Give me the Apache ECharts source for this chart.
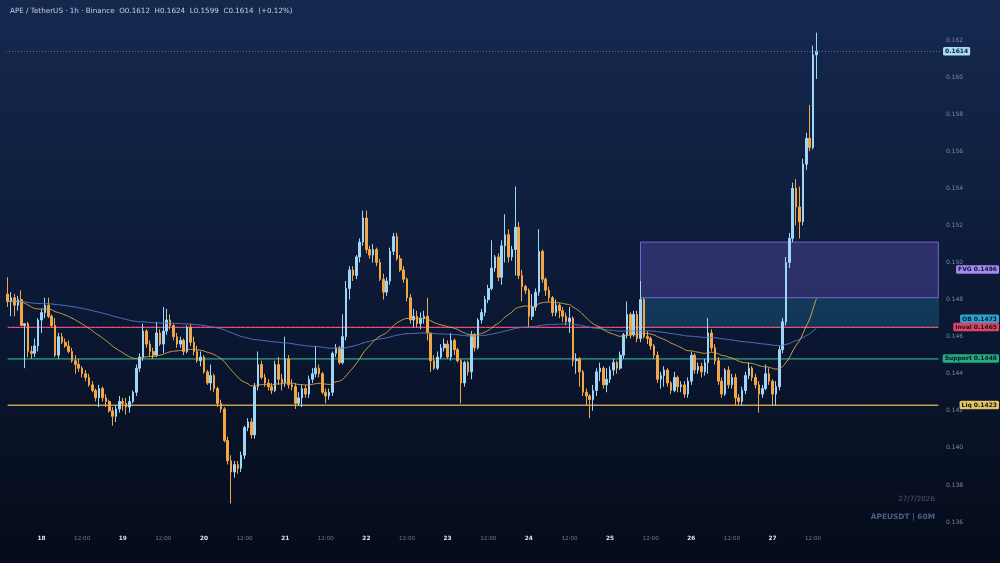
<!DOCTYPE html>
<html><head><meta charset="utf-8">
<script src="https://cdn.jsdelivr.net/npm/echarts@6/dist/echarts.min.js"></script>
<style>html,body{margin:0;padding:0;width:1000px;height:563px;overflow:hidden;background:#0b1733;}
#c{width:1000px;height:563px;}</style></head>
<body><div id="c"></div>
<script>
// ---- data (APE/USDT 1h, 17 Jul 14:00 -> 27 Jul 13:00, 2026) ----
const opens=[0.1483,0.1479,0.1481,0.1477,0.1480,0.1466,0.1467,0.1452,0.1451,0.1455,
0.1469,0.1473,0.1477,0.1471,0.1466,0.1450,0.1460,0.1457,0.1455,0.1452,
0.1447,0.1445,0.1443,0.1440,0.1438,0.1434,0.1431,0.1427,0.1432,0.1427,
0.1425,0.1420,0.1417,0.1421,0.1425,0.1424,0.1422,0.1425,0.1430,0.1443,
0.1449,0.1463,0.1456,0.1452,0.1450,0.1462,0.1456,0.1463,0.1469,0.1466,
0.1460,0.1456,0.1458,0.1452,0.1465,0.1457,0.1452,0.1447,0.1449,0.1441,
0.1435,0.1439,0.1432,0.1424,0.1421,0.1404,0.1393,0.1387,0.1391,0.1389,
0.1396,0.1411,0.1414,0.1407,0.1433,0.1445,0.1438,0.1435,0.1433,0.1431,
0.1445,0.1437,0.1435,0.1448,0.1434,0.1433,0.1424,0.1427,0.1432,0.1429,
0.1437,0.1440,0.1443,0.1440,0.1430,0.1428,0.1430,0.1451,0.1454,0.1446,
0.1460,0.1486,0.1496,0.1493,0.1503,0.1511,0.1524,0.1507,0.1504,0.1507,
0.1500,0.1491,0.1484,0.1490,0.1506,0.1514,0.1502,0.1496,0.1491,0.1481,
0.1469,0.1471,0.1467,0.1470,0.1471,0.1462,0.1447,0.1443,0.1449,0.1454,
0.1456,0.1449,0.1458,0.1453,0.1447,0.1435,0.1446,0.1441,0.1461,0.1454,
0.1469,0.1473,0.1480,0.1486,0.1497,0.1503,0.1492,0.1509,0.1515,0.1503,
0.1507,0.1519,0.1493,0.1487,0.1485,0.1471,0.1476,0.1484,0.1506,0.1491,
0.1485,0.1481,0.1473,0.1477,0.1474,0.1471,0.1468,0.1470,0.1447,0.1448,
0.1441,0.1430,0.1428,0.1426,0.1431,0.1441,0.1443,0.1434,0.1437,0.1442,
0.1446,0.1443,0.1450,0.1461,0.1472,0.1461,0.1472,0.1459,0.1480,0.1460,
0.1459,0.1455,0.1450,0.1437,0.1439,0.1442,0.1435,0.1431,0.1438,0.1433,
0.1434,0.1429,0.1436,0.1450,0.1442,0.1444,0.1441,0.1446,0.1462,0.1454,
0.1447,0.1436,0.1429,0.1442,0.1434,0.1438,0.1427,0.1425,0.1431,0.1439,
0.1443,0.1438,0.1434,0.1429,0.1432,0.1440,0.1436,0.1429,0.1433,0.1453,
0.1468,0.1500,0.1513,0.1540,0.1530,0.1522,0.1553,0.1567,0.1562,0.1612];
const highs=[0.1492,0.1484,0.1483,0.1482,0.1485,0.1467,0.1468,0.1455,0.1459,0.1470,
0.1475,0.1481,0.1481,0.1472,0.1470,0.1462,0.1462,0.1459,0.1458,0.1454,
0.1450,0.1448,0.1444,0.1442,0.1440,0.1436,0.1432,0.1434,0.1433,0.1429,
0.1426,0.1422,0.1423,0.1428,0.1427,0.1427,0.1428,0.1431,0.1445,0.1451,
0.1467,0.1464,0.1458,0.1454,0.1468,0.1464,0.1476,0.1475,0.1472,0.1467,
0.1462,0.1460,0.1459,0.1466,0.1467,0.1460,0.1455,0.1452,0.1450,0.1442,
0.1445,0.1440,0.1433,0.1426,0.1422,0.1406,0.1396,0.1393,0.1393,0.1398,
0.1412,0.1416,0.1416,0.1435,0.1452,0.1447,0.1440,0.1437,0.1435,0.1447,
0.1449,0.1440,0.1460,0.1450,0.1437,0.1435,0.1430,0.1434,0.1434,0.1439,
0.1443,0.1455,0.1445,0.1441,0.1432,0.1432,0.1452,0.1456,0.1455,0.1472,
0.1490,0.1498,0.1498,0.1504,0.1513,0.1528,0.1528,0.1509,0.1510,0.1508,
0.1502,0.1494,0.1492,0.1508,0.1516,0.1516,0.1504,0.1498,0.1492,0.1483,
0.1475,0.1474,0.1473,0.1474,0.1481,0.1462,0.1450,0.1452,0.1456,0.1459,
0.1458,0.1462,0.1459,0.1454,0.1448,0.1447,0.1447,0.1463,0.1462,0.1470,
0.1475,0.1482,0.1488,0.1512,0.1504,0.1505,0.1512,0.1526,0.1518,0.1509,
0.1541,0.1522,0.1496,0.1488,0.1486,0.1483,0.1486,0.1518,0.1507,0.1492,
0.1487,0.1482,0.1480,0.1478,0.1476,0.1473,0.1476,0.1471,0.1451,0.1449,
0.1442,0.1432,0.1429,0.1434,0.1443,0.1446,0.1444,0.1443,0.1444,0.1448,
0.1447,0.1452,0.1462,0.1479,0.1473,0.1474,0.1474,0.1490,0.1481,0.1463,
0.1460,0.1456,0.1452,0.1441,0.1444,0.1443,0.1436,0.1441,0.1439,0.1436,
0.1436,0.1438,0.1452,0.1451,0.1446,0.1446,0.1448,0.1470,0.1464,0.1456,
0.1449,0.1438,0.1443,0.1444,0.1440,0.1440,0.1429,0.1433,0.1441,0.1446,
0.1444,0.1440,0.1436,0.1434,0.1445,0.1443,0.1437,0.1436,0.1455,0.1470,
0.1503,0.1516,0.1543,0.1545,0.1541,0.1556,0.1570,0.1585,0.1617,0.1624];
const lows=[0.1476,0.1471,0.1471,0.1474,0.1466,0.1443,0.1449,0.1448,0.1449,0.1452,
0.1462,0.1470,0.1470,0.1465,0.1449,0.1448,0.1456,0.1454,0.1451,0.1446,
0.1440,0.1441,0.1438,0.1436,0.1433,0.1430,0.1425,0.1422,0.1425,0.1422,
0.1419,0.1412,0.1414,0.1419,0.1420,0.1418,0.1419,0.1424,0.1428,0.1441,
0.1447,0.1454,0.1449,0.1448,0.1449,0.1455,0.1451,0.1461,0.1464,0.1458,
0.1454,0.1454,0.1450,0.1451,0.1455,0.1450,0.1446,0.1444,0.1440,0.1434,
0.1431,0.1430,0.1422,0.1419,0.1403,0.1391,0.1370,0.1384,0.1386,0.1387,
0.1394,0.1409,0.1405,0.1405,0.1431,0.1437,0.1433,0.1431,0.1429,0.1430,
0.1434,0.1431,0.1433,0.1432,0.1431,0.1421,0.1423,0.1422,0.1427,0.1427,
0.1435,0.1438,0.1438,0.1429,0.1424,0.1426,0.1428,0.1449,0.1445,0.1445,
0.1458,0.1480,0.1490,0.1491,0.1500,0.1509,0.1505,0.1502,0.1500,0.1498,
0.1490,0.1480,0.1482,0.1488,0.1504,0.1501,0.1495,0.1489,0.1479,0.1467,
0.1465,0.1465,0.1464,0.1467,0.1458,0.1441,0.1442,0.1442,0.1448,0.1452,
0.1448,0.1447,0.1450,0.1446,0.1424,0.1433,0.1439,0.1437,0.1452,0.1453,
0.1467,0.1471,0.1478,0.1485,0.1495,0.1490,0.1488,0.1500,0.1500,0.1501,
0.1493,0.1491,0.1479,0.1483,0.1465,0.1469,0.1474,0.1482,0.1489,0.1482,
0.1479,0.1471,0.1471,0.1470,0.1468,0.1466,0.1462,0.1444,0.1440,0.1433,
0.1428,0.1423,0.1416,0.1420,0.1428,0.1436,0.1432,0.1430,0.1435,0.1439,
0.1440,0.1442,0.1448,0.1459,0.1459,0.1460,0.1457,0.1457,0.1459,0.1456,
0.1453,0.1448,0.1435,0.1432,0.1433,0.1433,0.1429,0.1430,0.1430,0.1430,
0.1427,0.1427,0.1434,0.1440,0.1440,0.1438,0.1439,0.1440,0.1452,0.1445,
0.1434,0.1427,0.1428,0.1432,0.1432,0.1423,0.1423,0.1423,0.1429,0.1437,
0.1436,0.1432,0.1419,0.1427,0.1431,0.1434,0.1423,0.1423,0.1431,0.1451,
0.1466,0.1497,0.1511,0.1520,0.1513,0.1520,0.1550,0.1560,0.1561,0.1599];
const closes=[0.1479,0.1481,0.1477,0.1480,0.1466,0.1467,0.1452,0.1451,0.1455,0.1469,
0.1473,0.1477,0.1471,0.1466,0.1450,0.1460,0.1457,0.1455,0.1452,0.1447,
0.1445,0.1443,0.1440,0.1438,0.1434,0.1431,0.1427,0.1432,0.1427,0.1425,
0.1420,0.1417,0.1421,0.1425,0.1424,0.1422,0.1425,0.1430,0.1443,0.1449,
0.1463,0.1456,0.1452,0.1450,0.1462,0.1456,0.1463,0.1469,0.1466,0.1460,
0.1456,0.1458,0.1452,0.1465,0.1457,0.1452,0.1447,0.1449,0.1441,0.1435,
0.1439,0.1432,0.1424,0.1421,0.1404,0.1393,0.1387,0.1391,0.1389,0.1396,
0.1411,0.1414,0.1407,0.1433,0.1445,0.1438,0.1435,0.1433,0.1431,0.1445,
0.1437,0.1435,0.1448,0.1434,0.1433,0.1424,0.1427,0.1432,0.1429,0.1437,
0.1440,0.1443,0.1440,0.1430,0.1428,0.1430,0.1451,0.1454,0.1446,0.1460,
0.1486,0.1496,0.1493,0.1503,0.1511,0.1524,0.1507,0.1504,0.1507,0.1500,
0.1491,0.1484,0.1490,0.1506,0.1514,0.1502,0.1496,0.1491,0.1481,0.1469,
0.1471,0.1467,0.1470,0.1471,0.1462,0.1447,0.1443,0.1449,0.1454,0.1456,
0.1449,0.1458,0.1453,0.1447,0.1435,0.1446,0.1441,0.1461,0.1454,0.1469,
0.1473,0.1480,0.1486,0.1497,0.1503,0.1492,0.1509,0.1515,0.1503,0.1507,
0.1519,0.1493,0.1487,0.1485,0.1471,0.1476,0.1484,0.1506,0.1491,0.1485,
0.1481,0.1473,0.1477,0.1474,0.1471,0.1468,0.1470,0.1447,0.1448,0.1441,
0.1430,0.1428,0.1426,0.1431,0.1441,0.1443,0.1434,0.1437,0.1442,0.1446,
0.1443,0.1450,0.1461,0.1472,0.1461,0.1472,0.1459,0.1480,0.1460,0.1459,
0.1455,0.1450,0.1437,0.1439,0.1442,0.1435,0.1431,0.1438,0.1433,0.1434,
0.1429,0.1436,0.1450,0.1442,0.1444,0.1441,0.1446,0.1462,0.1454,0.1447,
0.1436,0.1429,0.1442,0.1434,0.1438,0.1427,0.1425,0.1431,0.1439,0.1443,
0.1438,0.1434,0.1429,0.1432,0.1440,0.1436,0.1429,0.1433,0.1453,0.1468,
0.1500,0.1513,0.1540,0.1530,0.1522,0.1553,0.1567,0.1562,0.1612,0.1614];

const startHourUTC = Date.UTC(2026, 6, 17, 14); // first candle
const futureSlots = 36;                          // empty space to the right
const zoneStartIndex = 187;                      // 25 Jul 09:00
const fvgZone = [0.1481, 0.1511];
const obZone  = [0.1465, 0.1481];
const invalLevel = 0.1465;
const supportLevel = 0.1448;
const liqLevel = 0.1423;

// ---- build ----
const nCandles = closes.length;
const categories = [];
for (let i = 0; i < nCandles + futureSlots; i++) {
  const d = new Date(startHourUTC + i * 3600000);
  categories.push(d.getUTCDate() + ' ' + String(d.getUTCHours()).padStart(2,'0') + ':00');
}
const candleData = closes.map((c, i) => [opens[i], c, lows[i], highs[i]]);
function ema(src, p) {
  const k = 2 / (p + 1); const out = []; let e = src[0];
  for (let i = 0; i < src.length; i++) { e = i === 0 ? src[0] : src[i] * k + e * (1 - k); out.push(+e.toFixed(6)); }
  return out;
}
const ema50 = ema(closes, 50);
const ema200 = ema(closes, 200);
const lastO = opens[nCandles-1], lastH = highs[nCandles-1], lastL = lows[nCandles-1], lastC = closes[nCandles-1];
const chg = ((lastC - lastO) / lastO * 100);
const headText = 'APE / TetherUS · 1h · Binance  O' + lastO.toFixed(4) + '  H' + lastH.toFixed(4) +
  '  L' + lastL.toFixed(4) + '  C' + lastC.toFixed(4) + '  (' + (chg >= 0 ? '+' : '') + chg.toFixed(2) + '%)';
const lastIdx = categories.length - 1;
const FONT = 'DejaVu Sans';

// zero-height mark areas act as coloured horizontal level lines
function levelArea(value, color, type, width) {
  return [{xAxis: 0, yAxis: value, itemStyle: {color: 'rgba(0,0,0,0)', borderColor: color, borderWidth: width, borderType: type}},
          {xAxis: lastIdx, yAxis: value}];
}

const chart = echarts.init(document.getElementById('c'), null, {renderer: 'canvas'});
chart.setOption({
  animation: false,
  backgroundColor: {type: 'linear', x: 0, y: 0, x2: 0, y2: 1,
    colorStops: [{offset: 0, color: '#15294f'}, {offset: 0.5, color: '#0c1a37'}, {offset: 1, color: '#050b19'}]},
  title: [
    {text: headText, left: 5, top: 3, textStyle: {color: '#c3cde0', fontSize: 7.2, fontWeight: 'normal', fontFamily: FONT}},
    {text: '27/7/2026', right: 60, top: 491, textStyle: {color: '#4d5b77', fontSize: 7.2, fontWeight: 'normal', fontFamily: FONT}},
    {text: 'APEUSDT | 60M', right: 60, top: 509, textStyle: {color: '#4c5f82', fontSize: 7.4, fontWeight: 'bold', fontFamily: FONT}}
  ],
  grid: {left: 6, right: 60, top: 21.5, height: 509.8},
  xAxis: {
    type: 'category', data: categories, boundaryGap: true,
    axisLine: {show: false}, axisTick: {show: false}, splitLine: {show: false},
    axisLabel: {
      margin: 4, hideOverlap: false,
      interval: (idx, val) => idx < nCandles && (val.endsWith(' 00:00') || val.endsWith(' 12:00')),
      formatter: (val) => val.endsWith(' 00:00') ? '{d|' + val.split(' ')[0] + '}' : '{h|12:00}',
      rich: {
        d: {color: '#dde4ef', fontSize: 5.8, fontWeight: 'bold', fontFamily: FONT},
        h: {color: '#6d7c99', fontSize: 5.6, fontFamily: FONT}
      }
    }
  },
  yAxis: {
    type: 'value', position: 'right', scale: true,
    min: 0.1355, max: 0.1630, splitNumber: 13,
    axisLine: {show: false}, axisTick: {show: false}, splitLine: {show: false},
    axisLabel: {color: '#7c89a3', fontSize: 6, fontFamily: FONT, margin: 6,
      showMinLabel: false, showMaxLabel: false, formatter: (v) => v.toFixed(3)}
  },
  series: [
    {
      type: 'candlestick', name: 'APEUSDT', data: candleData, barWidth: '62%',
      itemStyle: {color: '#9fd5f6', color0: '#f2a646', borderColor: '#9fd5f6', borderColor0: '#f2a646', borderWidth: 1},
      markArea: {
        silent: true,
        data: [
          [{xAxis: zoneStartIndex, yAxis: obZone[1], itemStyle: {color: 'rgba(28,110,150,0.38)', borderColor: 'rgba(40,120,170,0.35)', borderWidth: 1}},
           {xAxis: lastIdx, yAxis: obZone[0]}],
          [{xAxis: zoneStartIndex, yAxis: fvgZone[1], itemStyle: {color: 'rgba(112,92,205,0.33)', borderColor: '#7565cc', borderWidth: 1}},
           {xAxis: lastIdx, yAxis: fvgZone[0]}],
          levelArea(supportLevel, '#279a83', 'solid', 0.9),
          levelArea(liqLevel, '#d9b35c', 'solid', 0.9),
          levelArea(invalLevel, '#f04d78', [3, 2], 1.2)
        ]
      },
      markLine: {
        silent: true, symbol: ['none', 'none'], precision: 4,
        lineStyle: {color: '#5a6f90', width: 1, type: [1, 2]},
        data: [{yAxis: lastC,
          label: {show: true, position: 'end', distance: 3, formatter: lastC.toFixed(4),
            color: '#0a1a33', backgroundColor: '#a9dbf7', fontSize: 6, fontWeight: 'bold', fontFamily: FONT,
            padding: [1.5, 2, 1, 2], borderRadius: 1.5}}]
      },
      z: 3
    },
    {type: 'line', name: 'EMA200', data: ema200, showSymbol: false, smooth: true,
     lineStyle: {color: '#5877cf', width: 1}, itemStyle: {color: '#5877cf'}, z: 4, silent: true},
    {type: 'line', name: 'EMA50', data: ema50, showSymbol: false, smooth: true,
     lineStyle: {color: '#d7a64b', width: 1}, itemStyle: {color: '#d7a64b'}, z: 4, silent: true}
  ]
});

// right-hand tags, positioned from their values
const tags = [
  {text: 'FVG ' + ((fvgZone[0] + fvgZone[1]) / 2).toFixed(4), value: (fvgZone[0] + fvgZone[1]) / 2, bg: '#a58bef', shift: 0},
  {text: 'OB ' + ((obZone[0] + obZone[1]) / 2).toFixed(4), value: (obZone[0] + obZone[1]) / 2, bg: '#2ca3d3', shift: 6.5},
  {text: 'Inval ' + invalLevel.toFixed(4), value: invalLevel, bg: '#e2435e', shift: 0},
  {text: 'Support ' + supportLevel.toFixed(4), value: supportLevel, bg: '#22ad7b', shift: 0},
  {text: 'Liq ' + liqLevel.toFixed(4), value: liqLevel, bg: '#e8c35d', shift: 0}
];
const graphics = tags.map(t => {
  const y = chart.convertToPixel({yAxisIndex: 0}, t.value) + t.shift;
  return {type: 'text', right: 1, top: y - 4.6, z: 100, silent: true,
    style: {text: t.text, fill: '#0b1530', font: 'bold 6px "DejaVu Sans"', backgroundColor: t.bg,
      padding: [1.5, 2, 1, 2], borderRadius: 1.5}};
});
chart.setOption({graphic: graphics});
</script>
</body></html>
